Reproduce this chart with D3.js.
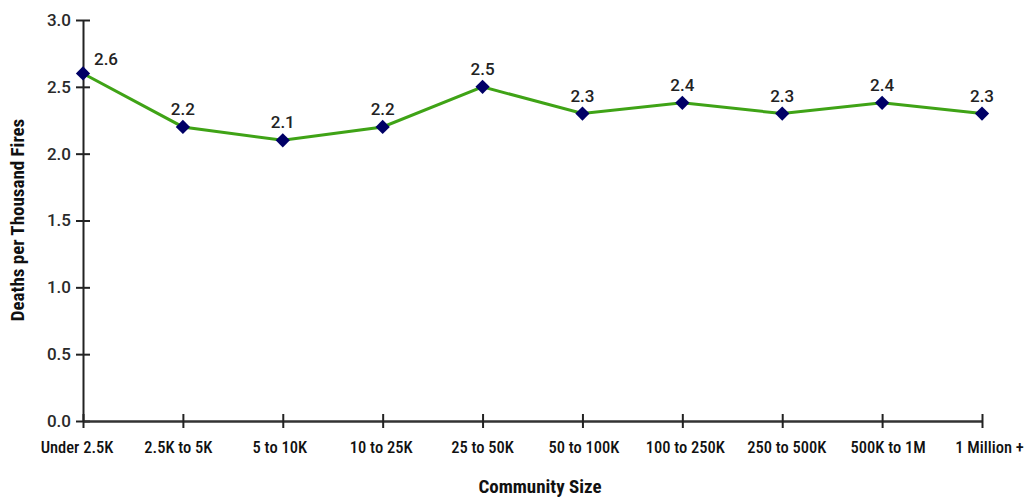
<!DOCTYPE html>
<html><head><meta charset="utf-8">
<script src="https://cdn.jsdelivr.net/npm/d3@7"></script>
<style>body{margin:0;background:#fff;} svg{display:block;}</style>
</head><body>
<svg id="c" width="1028" height="497"></svg>
<script>
const categories = ["Under 2.5K","2.5K to 5K","5 to 10K","10 to 25K","25 to 50K","50 to 100K","100 to 250K","250 to 500K","500K to 1M","1 Million +"];
const values = [2.6, 2.2, 2.1, 2.2, 2.5, 2.3, 2.38, 2.3, 2.38, 2.3];
const labels = ["2.6","2.2","2.1","2.2","2.5","2.3","2.4","2.3","2.4","2.3"];
const yTicks = [0, 0.5, 1.0, 1.5, 2.0, 2.5, 3.0];

const svg = d3.select("#c");
const x = d3.scalePoint().domain(categories).range([83, 982]);
const xLabel = d3.scalePoint().domain(categories).range([76.5, 989]);
const y = d3.scaleLinear().domain([0, 3]).range([421, 20]);
const narrow = "'Liberation Sans Narrow','Arial Narrow','Roboto Condensed',Roboto,sans-serif";

const yAxis = svg.append("g").attr("transform","translate(83,0)")
  .call(d3.axisLeft(y).tickValues(yTicks).tickFormat(d3.format(".1f")).tickSize(0));
yAxis.select(".domain").attr("stroke","#222").attr("stroke-width",2);
yAxis.selectAll(".tick line").attr("x1",-7).attr("x2",7).attr("stroke","#222").attr("stroke-width",2);
yAxis.selectAll(".tick text").attr("x",-12).attr("font-family","Roboto, sans-serif").attr("font-size",17).attr("font-weight",500).attr("fill","#2a2a2a");

const xAxis = svg.append("g").attr("transform","translate(0,421)")
  .call(d3.axisBottom(x).tickSize(0));
xAxis.select(".domain").attr("stroke","#333").attr("stroke-width",2.5);
xAxis.selectAll(".tick line").attr("y1",-7).attr("y2",7).attr("stroke","#222").attr("stroke-width",2);
xAxis.selectAll(".tick text").attr("y",20).attr("dy","0.71em")
  .attr("x", d => xLabel(d) - x(d))
  .attr("font-family",narrow).attr("font-size",16.5).attr("font-weight",500).attr("fill","#111");

const line = d3.line().x((d,i)=>x(categories[i])).y(d=>y(d));
svg.append("path").datum(values).attr("d",line).attr("fill","none").attr("stroke","#3fa316").attr("stroke-width",3);

svg.selectAll(".pt").data(values).enter().append("path")
  .attr("class","pt")
  .attr("d", d3.symbol().type(d3.symbolDiamond2).size(130))
  .attr("transform",(d,i)=>`translate(${x(categories[i])},${y(d)})`)
  .attr("fill","#000066");

svg.selectAll(".lbl").data(values).enter().append("text")
  .attr("x",(d,i)=> x(categories[i]) + (i===0 ? 23 : 0))
  .attr("y",(d,i)=> y(d) - (i===0 ? 8 : 12))
  .attr("text-anchor","middle")
  .attr("font-family","Roboto, sans-serif").attr("font-size",17).attr("font-weight",500).attr("fill","#222")
  .text((d,i)=>labels[i]);

svg.append("text").attr("x",540).attr("y",493).attr("text-anchor","middle")
  .attr("font-family",narrow).attr("font-weight","bold").attr("font-size",19).attr("fill","#111")
  .text("Community Size");

svg.append("text").attr("transform","translate(24,220) rotate(-90)").attr("text-anchor","middle")
  .attr("font-family",narrow).attr("font-weight","bold").attr("font-size",19).attr("fill","#111")
  .text("Deaths per Thousand Fires");
</script>
</body></html>
